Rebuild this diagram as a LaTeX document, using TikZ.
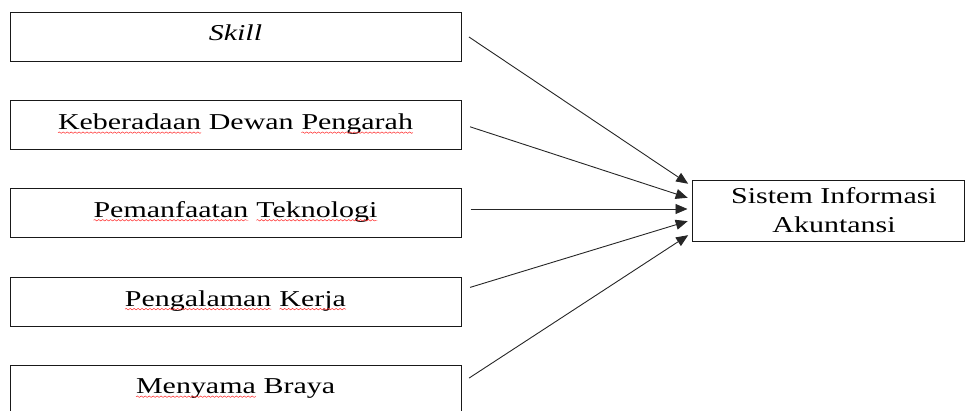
\documentclass[tikz,border=0pt]{standalone}
\usepackage{fontspec}
\setmainfont{Liberation Serif}
\usetikzlibrary{arrows.meta,decorations.pathmorphing}
% red wavy underline, as a spell checker marks a word
\newcommand\redwave[1]{\tikz[baseline=(w.base)]{%
  \node[draw=none,inner sep=0pt,outer sep=0pt,minimum width=0pt,minimum height=0pt] (w) {#1};
  \draw[red!85!white,line width=0.45pt,decorate,
    decoration={snake,amplitude=0.7pt,segment length=3pt}]
    ([yshift=-3pt]w.base west) -- ([yshift=-3pt]w.base east);}}
\newcommand\wide[1]{\scalebox{1.32}[1]{#1}}
\begin{document}
\begin{tikzpicture}[x=1pt,y=-1pt,
    factor/.style={draw=black!90,line width=1pt,minimum width=451pt,minimum height=49pt,
      inner sep=0pt,font=\fontsize{22.7}{29}\selectfont},
    outcome/.style={draw=black!90,line width=1pt,minimum width=272pt,minimum height=61pt,
      inner sep=0pt,font=\fontsize{22.7}{29}\selectfont},
    arr/.style={draw=black!85,line width=0.9pt,-{Triangle[length=12pt,width=10pt]},
      shorten <=9pt,shorten >=4pt}]
  \useasboundingbox (0,0) rectangle (966,410);

  \node[factor] (s1) at (235.5,36.5) {\raisebox{7pt}{\wide{\textit{Skill}}}};
  \node[factor] (s2) at (235.5,125) {\raisebox{6.5pt}{\wide{\redwave{Keberadaan} Dewan \redwave{Pengarah}}}};
  \node[factor] (s3) at (235.5,212.5) {\raisebox{6.5pt}{\wide{\redwave{Pemanfaatan} \redwave{Teknologi}}}};
  \node[factor] (s4) at (235.5,301.5) {\raisebox{6.5pt}{\wide{\redwave{Pengalaman} \redwave{Kerja}}}};
  \node[factor] (s5) at (235.5,389.5) {\raisebox{6.5pt}{\wide{\redwave{Menyama} Braya}}};

  \node[outcome,align=center] (t) at (828,210.5)
    {\hspace*{12pt}\wide{Sistem Informasi}\\\hspace*{12pt}\wide{Akuntansi}};

  \draw[arr] ([yshift=4.5pt]s1.east) -- ([yshift=24.5pt]t.west);
  \draw[arr] ([yshift=1pt]s2.east) -- ([yshift=11.5pt]t.west);
  \draw[arr] ([yshift=3.5pt]s3.east) -- ([yshift=1.5pt]t.west);
  \draw[arr] ([yshift=11.5pt]s4.east) -- ([yshift=-9.5pt]t.west);
  \draw[arr] ([yshift=6.5pt]s5.east) -- ([yshift=-22.5pt]t.west);
\end{tikzpicture}
\end{document}
